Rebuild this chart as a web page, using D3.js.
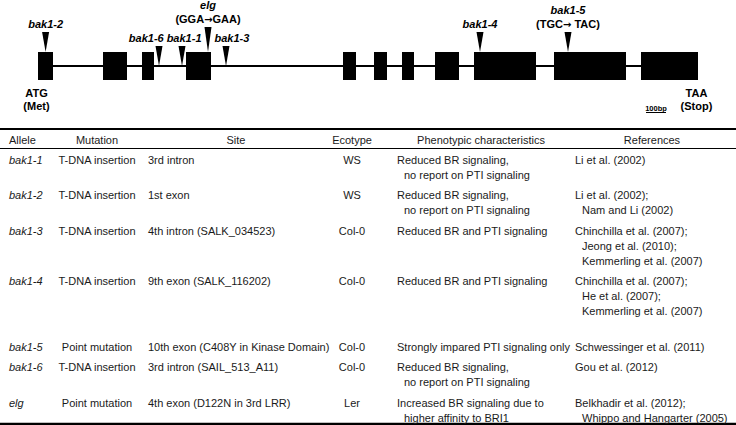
<!DOCTYPE html>
<html>
<head>
<meta charset="utf-8">
<script src="https://cdnjs.cloudflare.com/ajax/libs/d3/7.8.5/d3.min.js"></script>
<style>
body { margin: 0; background: #fff; }
svg { display: block; font-family: "Liberation Sans", Arial, Helvetica, sans-serif; }
</style>
</head>
<body>
<svg id="bak1"></svg>
<script>
(function () {
var width = 736, height = 425
var svg = d3.select('#bak1')
            .attr('width', width)
            .attr('height', height)

// gene model (bp from ATG)
var geneLength = 3300
var scaleBarBp = 100
var exons = [[0, 75], [325, 445], [520, 580], [740, 865], [1525, 1590], [1680, 1745],
             [1820, 1880], [1985, 2105], [2180, 2490], [2580, 2940], [3015, 3300]]

// insertion / point mutation sites on the gene
var siteNames = ['bak1-2', 'bak1-6', 'bak1-1', 'elg', 'bak1-3', 'bak1-4', 'bak1-5']
var siteBp = [38, 605, 720, 850, 940, 2210, 2650]
var siteNotes = ['', '', '', 'GGA|GAA', '', '', 'TGC|TAC']

// table
var columns = ['Allele', 'Mutation', 'Site', 'Ecotype', 'Phenotypic characteristics', 'References']
var alleles = ['bak1-1', 'bak1-2', 'bak1-3', 'bak1-4', 'bak1-5', 'bak1-6', 'elg']
var mutations = ['T-DNA insertion', 'T-DNA insertion', 'T-DNA insertion', 'T-DNA insertion',
                 'Point mutation', 'T-DNA insertion', 'Point mutation']
var sites = ['3rd intron', '1st exon', '4th intron (SALK_034523)', '9th exon (SALK_116202)',
             '10th exon (C408Y in Kinase Domain)', '3rd intron (SAIL_513_A11)', '4th exon (D122N in 3rd LRR)']
var ecotypes = ['WS', 'WS', 'Col-0', 'Col-0', 'Col-0', 'Col-0', 'Ler']
var phenotypes = [
    ['Reduced BR signaling,', 'no report on PTI signaling'],
    ['Reduced BR signaling,', 'no report on PTI signaling'],
    ['Reduced BR and PTI signaling'],
    ['Reduced BR and PTI signaling'],
    ['Strongly impared PTI signaling only'],
    ['Reduced BR signaling,', 'no report on PTI signaling'],
    ['Increased BR signaling due to', 'higher affinity to BRI1']
]
var references = [
    ['Li et al. (2002)'],
    ['Li et al. (2002);', 'Nam and Li (2002)'],
    ['Chinchilla et al. (2007);', 'Jeong et al. (2010);', 'Kemmerling et al. (2007)'],
    ['Chinchilla et al. (2007);', 'He et al. (2007);', 'Kemmerling et al. (2007)', ''],
    ['Schwessinger et al. (2011)'],
    ['Gou et al. (2012)'],
    ['Belkhadir et al. (2012);', 'Whippo and Hangarter (2005)']
]

// ---------- gene diagram ----------
var x = d3.scaleLinear().domain([0, geneLength]).range([38, 698])
var lineY = 66, exonTop = 52, exonH = 28

var g = svg.append('g').attr('class', 'gene')

g.append('line')
    .attr('x1', x(0)).attr('x2', x(geneLength))
    .attr('y1', lineY).attr('y2', lineY)
    .attr('stroke', '#000').attr('stroke-width', 2)

g.selectAll('rect.exon')
    .data(exons)
  .enter().append('rect')
    .attr('class', 'exon')
    .attr('x', (d) => x(d[0]))
    .attr('width', (d) => x(d[1]) - x(d[0]))
    .attr('y', exonTop)
    .attr('height', exonH)
    .attr('fill', '#000')

function inExon(bp) {
    return exons.some((e) => bp >= e[0] && bp <= e[1])
}

var markers = siteNames.map((n, i) => ({name: n, bp: siteBp[i], note: siteNotes[i], exon: inExon(siteBp[i])}))

// labels first, so they can be measured and pushed apart
var lab = g.selectAll('text.site')
    .data(markers)
  .enter().append('text')
    .attr('class', 'site')
    .attr('text-anchor', 'middle')
    .style('font-size', '11px')
    .style('font-weight', 'bold')

lab.each(function (d) {
    var t = d3.select(this)
    t.append('tspan').attr('class', 'nm').attr('x', 0).style('font-style', 'italic').text(d.name)
    if (d.note) {
        var p = d.note.split('|')
        var n = t.append('tspan').attr('class', 'nt').attr('x', 0)
        n.append('tspan').text('(' + p[0])
        n.append('tspan').style('font-family', '"DejaVu Sans"').style('font-size', '10px').text('\u2192')
        n.append('tspan').text((d.name == 'elg' ? '' : ' ') + p[1] + ')')
    }
    d.w = this.getBBox().width
    d.lx = x(d.bp)
    d.base = d.exon ? 28 : 42
})

// push intron labels apart from each other and from the exon markers
var gap = 2.5
var inLab = markers.filter((d) => !d.exon).sort((a, b) => a.bp - b.bp)
var fixed = markers.filter((d) => d.exon).map((d) => [x(d.bp) - 4, x(d.bp) + 4])
for (var it = 0; it < 200; it++) {
    for (var i = 0; i < inLab.length - 1; i++) {
        var a = inLab[i], b = inLab[i + 1]
        var ov = (a.lx + a.w / 2 + gap) - (b.lx - b.w / 2)
        if (ov > 0) { a.lx -= ov / 2; b.lx += ov / 2 }
    }
    inLab.forEach(function (d) {
        fixed.forEach(function (f) {
            var l = d.lx - d.w / 2, r = d.lx + d.w / 2
            if (r + gap > f[0] && l - gap < f[1]) {
                if (d.lx < (f[0] + f[1]) / 2) d.lx -= r + gap - f[0]
                else d.lx += f[1] + gap - l
            }
        })
    })
}
// exon labels that sit over the intron labels are lifted a little
markers.filter((d) => d.exon).forEach(function (d) {
    var hit = inLab.some((o) => Math.abs(o.lx - d.lx) < (o.w + d.w) / 2)
    if (hit) d.base -= 5
})

lab.attr('transform', (d) => 'translate(' + d.lx + ',0)')
lab.select('tspan.nm').attr('y', (d) => d.note ? d.base - 14 : d.base)
lab.select('tspan.nt').attr('y', (d) => d.base)

g.selectAll('path.site')
    .data(markers)
  .enter().append('path')
    .attr('class', 'site')
    .attr('d', function (d) {
        var cx = x(d.bp), top = d.base + 4, tip = d.exon ? exonTop : lineY
        return 'M' + (cx - 3.5) + ',' + top + 'L' + (cx + 3.5) + ',' + top + 'L' + cx + ',' + tip + 'Z'
    })
    .attr('fill', '#000')

// start / stop codons
var ends = [{bp: 0, lines: ['ATG', '(Met)']}, {bp: geneLength, lines: ['TAA', '(Stop)']}]
ends.forEach(function (d) {
    var t = g.append('text')
        .attr('text-anchor', 'middle')
        .style('font-size', '11px')
        .style('font-weight', 'bold')
    d.lines.forEach(function (part, j) {
        t.append('tspan').attr('x', x(d.bp) - 1.5).attr('y', 97 + j * 12.5).text(part)
    })
})

// 100 bp scale bar
var sb = x(3040)
g.append('line')
    .attr('x1', sb).attr('x2', sb + x(scaleBarBp) - x(0))
    .attr('y1', 112.5).attr('y2', 112.5)
    .attr('stroke', '#000').attr('stroke-width', 1)
g.append('text')
    .attr('x', sb + (x(scaleBarBp) - x(0)) / 2).attr('y', 110.5)
    .attr('text-anchor', 'middle')
    .style('font-size', '7.5px').style('font-weight', 'bold')
    .text(scaleBarBp + 'bp')

// ---------- table ----------
var tbl = svg.append('g').attr('class', 'table').style('font-size', '11px').attr('fill', '#1a1a1a')
var headX = [9, 97, 236, 352, 481, 652]
var headAnchor = ['start', 'middle', 'middle', 'middle', 'middle', 'middle']
var cellX = [9, 97, 148, 352, 397, 575]
var cellAnchor = ['start', 'middle', 'start', 'middle', 'start', 'start']
var lineH = 15, pad = 5.5, firstY = 160, headY = 140.5

tbl.append('line').attr('x1', 0).attr('x2', width).attr('y1', 129).attr('y2', 129)
    .attr('stroke', '#000').attr('stroke-width', 2)
tbl.append('line').attr('x1', 0).attr('x2', width).attr('y1', 148.5).attr('y2', 148.5)
    .attr('stroke', '#000').attr('stroke-width', 1.2)
tbl.append('line').attr('x1', 0).attr('x2', width).attr('y1', 424).attr('y2', 424)
    .attr('stroke', '#000').attr('stroke-width', 2.5)

tbl.selectAll('text.head')
    .data(columns)
  .enter().append('text')
    .attr('class', 'head')
    .attr('x', (d, i) => headX[i])
    .attr('y', headY)
    .attr('dy', '0.35em')
    .attr('text-anchor', (d, i) => headAnchor[i])
    .text((d) => d)

var rows = alleles.map((a, i) => ({
    cells: [[a], [mutations[i]], [sites[i]], [ecotypes[i]], phenotypes[i], references[i]]
}))
var y = firstY
rows.forEach(function (r) {
    r.y = y
    var n = d3.max(r.cells, (c) => c.length)
    y += n * lineH + pad
})

var row = tbl.selectAll('g.row')
    .data(rows)
  .enter().append('g')
    .attr('class', 'row')
    .attr('transform', (d) => 'translate(0,' + d.y + ')')

row.each(function (r) {
    var s = d3.select(this)
    r.cells.forEach(function (c, ci) {
        c.forEach(function (line, li) {
            s.append('text')
                .attr('x', cellX[ci] + (li > 0 ? 7 : 0))
                .attr('y', li * lineH)
                .attr('dy', '0.35em')
                .attr('text-anchor', cellAnchor[ci])
                .style('font-style', ci == 0 ? 'italic' : 'normal')
                .text(line)
        })
    })
})
})();
</script>
</body>
</html>
